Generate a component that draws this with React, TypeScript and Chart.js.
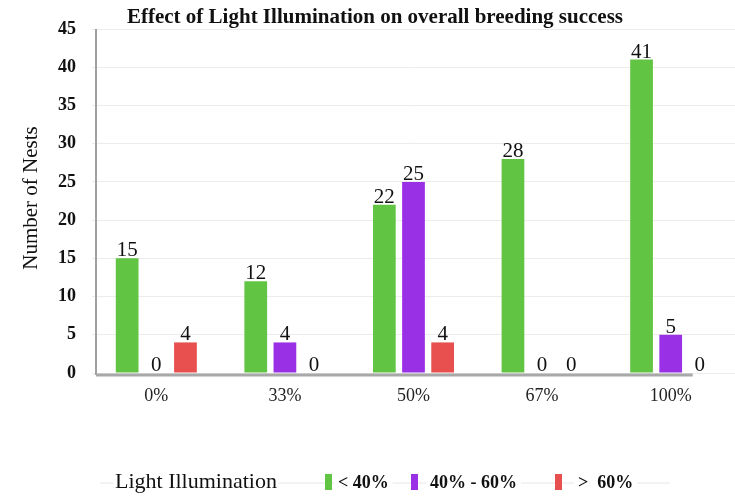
import React, { useEffect, useRef } from "react";
import { Chart, registerables } from "chart.js";

Chart.register(...registerables);

const categories = ["0%", "33%", "50%", "67%", "100%"];
const seriesLabels = ["< 40%", "40% - 60%", ">  60%"];
const lowValues = [15, 12, 22, 28, 41];
const midValues = [0, 4, 25, 0, 5];
const highValues = [4, 0, 4, 0, 0];
const seriesColors = ["#62c443", "#9a30e6", "#e84f4f"];
const yTicks = [0, 5, 10, 15, 20, 25, 30, 35, 40, 45];
const chartTitle = "Effect of Light Illumination on overall breeding success";
const yTitle = "Number of Nests";
const legendTitle = "Light Illumination";

const SERIF = "'Liberation Serif', 'Times New Roman', serif";

const drawPlugin = {
  id: "customDraw",
  afterDatasetsDraw(chart: any) {
    const ctx = chart.ctx;
    const { chartArea } = chart;
    const xs = chart.scales.x;
    const ys = chart.scales.y;
    ctx.save();
    // axis lines
    ctx.strokeStyle = "#a0a0a0";
    ctx.lineWidth = 2;
    ctx.beginPath();
    const axisX = chartArea.left + 4;
    ctx.moveTo(axisX, ys.getPixelForValue(45));
    ctx.lineTo(axisX, ys.getPixelForValue(0) + 2);
    ctx.stroke();
    const lastX = xs.getPixelForValue(categories.length - 1) + 22;
    ctx.lineWidth = 3;
    ctx.strokeStyle = "#a8a8a8";
    ctx.beginPath();
    ctx.moveTo(axisX, ys.getPixelForValue(0) + 2);
    ctx.lineTo(lastX, ys.getPixelForValue(0) + 2);
    ctx.stroke();

    // data labels
    ctx.fillStyle = "#111";
    ctx.font = `21px ${SERIF}`;
    ctx.textAlign = "center";
    ctx.textBaseline = "bottom";
    chart.data.datasets.forEach((ds: any, di: number) => {
      const meta = chart.getDatasetMeta(di);
      meta.data.forEach((bar: any, i: number) => {
        ctx.fillText(String(ds.data[i]), bar.x, bar.y + 3);
      });
    });

    // title
    ctx.font = `bold 21px ${SERIF}`;
    ctx.textBaseline = "middle";
    ctx.fillText(chartTitle, 375, 18);

    // y title
    ctx.save();
    ctx.translate(31, 198);
    ctx.rotate(-Math.PI / 2);
    ctx.font = `21px ${SERIF}`;
    ctx.fillText(yTitle, 0, 0);
    ctx.restore();

    // legend
    const ly = 482;
    ctx.strokeStyle = "#e6e6e6";
    ctx.lineWidth = 1;
    ctx.beginPath();
    ctx.moveTo(100, ly + 1);
    ctx.lineTo(670, ly + 1);
    ctx.stroke();
    ctx.textAlign = "left";
    ctx.font = `22px ${SERIF}`;
    const tw = ctx.measureText(legendTitle).width;
    ctx.fillStyle = "#fff";
    ctx.fillRect(113, ly - 13, tw + 4, 26);
    ctx.fillStyle = "#111";
    ctx.fillText(legendTitle, 115, ly);
    const boxX = [325, 411, 555];
    const textX = [338, 430, 578];
    ctx.font = `bold 18px ${SERIF}`;
    seriesLabels.forEach((lab, i) => {
      const w = ctx.measureText(lab).width;
      ctx.fillStyle = "#fff";
      ctx.fillRect(textX[i] - 4, ly - 11, w + 8, 22);
      ctx.fillStyle = seriesColors[i];
      ctx.fillRect(boxX[i], ly - 8, 7, 16);
      ctx.fillStyle = "#111";
      ctx.fillText(lab, textX[i], ly + 1);
    });
    ctx.restore();
  },
};

export default function App() {
  const ref = useRef<HTMLCanvasElement>(null);
  useEffect(() => {
    if (!ref.current) return;
    const chart = new Chart(ref.current, {
      type: "bar",
      data: {
        labels: categories,
        datasets: [lowValues, midValues, highValues].map((d, i) => ({
          label: seriesLabels[i],
          data: d,
          backgroundColor: seriesColors[i],
          categoryPercentage: 0.68,
          barPercentage: 0.78,
        })),
      },
      options: {
        responsive: false,
        animation: false,
        layout: { padding: { top: 29, left: 0, right: 0, bottom: 0 } },
        plugins: {
          legend: { display: false },
          title: { display: false },
          tooltip: { enabled: false },
        },
        scales: {
          x: {
            grid: { display: false, drawTicks: false },
            border: { display: false },
            ticks: {
              color: "#222",
              font: { family: SERIF, size: 18 },
              padding: 12,
            },
            afterFit(scale: any) {
              scale.height = 123;
            },
          },
          y: {
            min: 0,
            max: 45,
            afterBuildTicks(scale: any) {
              scale.ticks = yTicks.map((v) => ({ value: v }));
            },
            grid: { color: "#ececec", drawTicks: false },
            border: { display: false },
            ticks: {
              color: "#111",
              font: { family: SERIF, size: 18, weight: "bold" },
              padding: 16,
            },
            afterFit(scale: any) {
              scale.width = 92;
            },
          },
        },
      },
      plugins: [drawPlugin],
    });
    return () => chart.destroy();
  }, []);
  return (
    <div style={{ position: "fixed", left: 0, top: 0, width: 735, height: 496, background: "#fff" }}>
      <canvas ref={ref} width={735} height={496} />
    </div>
  );
}
